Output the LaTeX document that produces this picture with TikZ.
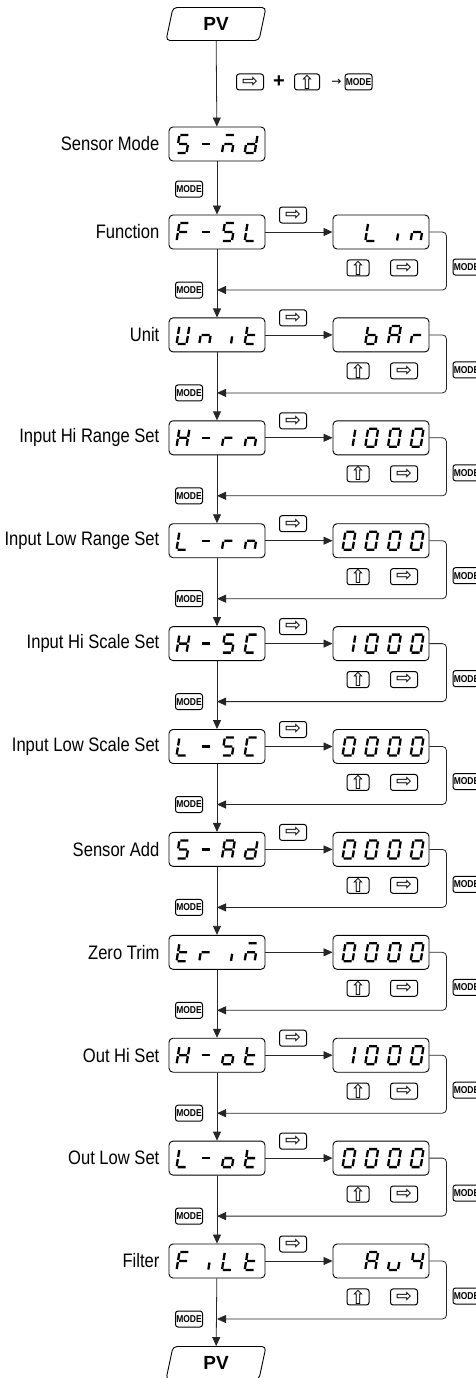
\documentclass[tikz,border=0pt]{standalone}
\usepackage{fontspec}
\setmainfont{Liberation Sans}
\newfontfamily\narrowfont[FakeStretch=0.85]{Liberation Sans}
\newfontfamily\symfont{DejaVu Sans}
\usetikzlibrary{shapes.geometric, arrows.meta, positioning}

% seven segment strokes (pixel units, y runs down)
\def\segA{(-4,-9) -- (4,-9)}
\def\segB{(5,-8) -- (5,-1)}
\def\segC{(5,1) -- (5,8)}
\def\segD{(-4,9) -- (4,9)}
\def\segE{(-5,1) -- (-5,8)}
\def\segF{(-5,-8) -- (-5,-1)}
\def\segG{(-4,0) -- (4,0)}
\def\segI{(4,1.5) -- (4,8.5)}
% display characters
\def\chX{}
\def\chDash{\segG}
\def\chS{\segA\segF\segG\segC\segD}
\def\chM{\segA\segG\segC\segE}
\def\chD{\segB\segC\segD\segE\segG}
\def\chF{\segA\segF\segG\segE}
\def\chL{\segF\segE\segD}
\def\chU{\segB\segC\segD\segE\segF}
\def\chN{\segG\segC\segE}
\def\chI{\segI}
\def\chT{\segF\segE\segD\segG}
\def\chH{\segB\segC\segE\segF\segG}
\def\chR{\segG\segE}
\def\chC{\segA\segF\segE\segD}
\def\chA{\segA\segB\segC\segE\segF\segG}
\def\chO{\segG\segC\segD\segE}
\def\chB{\segF\segE\segD\segC\segG}
\def\chY{\segF\segG\segB\segC}
\def\chV{\segE\segD\segC}
\def\chOne{\segB\segC}
\def\chZero{\segA\segB\segC\segD\segE\segF}

\newcommand{\segword}[6]{%
  \begin{scope}[shift={(#1.center)}, xshift=#2]
    \draw[segline, xslant=0.16] #3;
    \draw[segline, xshift=22.7, xslant=0.16] #4;
    \draw[segline, xshift=45.4, xslant=0.16] #5;
    \draw[segline, xshift=68.1, xslant=0.16] #6;
  \end{scope}}

\begin{document}
\begin{tikzpicture}[x=1pt, y=-1pt,
    conn/.style={line width=0.8pt, black!85},
    arr/.style={-{Triangle[length=9pt,width=8pt]}},
    segline/.style={line width=2.3pt, black},
    disp/.style={draw, line width=0.9pt, rounded corners=4pt, minimum width=96pt, minimum height=34pt, inner sep=0pt},
    pvbox/.style={trapezium, trapezium left angle=81, trapezium right angle=99, trapezium stretches=true, draw, line width=0.9pt, rounded corners=4pt, minimum width=100pt, minimum height=33pt, inner sep=0pt, font=\bfseries\fontsize{19}{19}\selectfont},
    keybox/.style={draw, line width=1pt, rounded corners=2.5pt, minimum width=27pt, minimum height=16pt, inner sep=0pt, font=\symfont\fontsize{19}{19}\selectfont},
    upkey/.style={keybox, minimum width=22pt},
    modekey/.style={draw, line width=1pt, rounded corners=2.5pt, minimum width=27pt, minimum height=16pt, inner sep=0pt, font=\narrowfont\bfseries\fontsize{10}{10}\selectfont},
    rowlabel/.style={inner sep=0pt, font=\narrowfont\fontsize{19.5}{21}\selectfont}]
  \useasboundingbox (0,0) rectangle (475,1378);

  % start
  \node[pvbox] (pvtop) at (216,24) {PV};
  \node[keybox] (c1) at (250,82) {⇨};
  \node[right=9pt of c1, inner sep=0pt, font=\bfseries\fontsize{20}{20}\selectfont] (cplus) {+};
  \node[keybox, minimum width=25pt, right=9pt of cplus] (c2) {⇧};
  \node[right=11pt of c2, inner sep=0pt, font=\symfont\fontsize{12}{12}\selectfont] (cto) {→};
  \node[modekey, right=3pt of cto] (cmode) {MODE};

  \node[disp] (sm) at (217,144) {};
  \node[rowlabel, left=9pt of sm] (lsm) {Sensor Mode};
  \segword{sm}{-34}{\chS}{\chDash}{\chM}{\chD}
  \coordinate (j0) at (217,189);
  \node[modekey, left=14pt of j0] (p0) {MODE};
  \draw[conn, arr] (pvtop) -- (sm);

  % menu rows
  \foreach \n/\lab/\ma/\mb/\mc/\md/\ra/\rb/\rc/\rd/\k in {
      1/Function/\chF/\chDash/\chS/\chL/\chX/\chL/\chI/\chN/1,
      2/Unit/\chU/\chN/\chI/\chT/\chX/\chB/\chA/\chR/1,
      3/Input Hi Range Set/\chH/\chDash/\chR/\chN/\chOne/\chZero/\chZero/\chZero/1,
      4/Input Low Range Set/\chL/\chDash/\chR/\chN/\chZero/\chZero/\chZero/\chZero/1,
      5/Input Hi Scale Set/\chH/\chDash/\chS/\chC/\chOne/\chZero/\chZero/\chZero/1,
      6/Input Low Scale Set/\chL/\chDash/\chS/\chC/\chZero/\chZero/\chZero/\chZero/1,
      7/Sensor Add/\chS/\chDash/\chA/\chD/\chZero/\chZero/\chZero/\chZero/1,
      8/Zero Trim/\chT/\chR/\chI/\chM/\chZero/\chZero/\chZero/\chZero/0,
      9/Out Hi Set/\chH/\chDash/\chO/\chT/\chOne/\chZero/\chZero/\chZero/1,
      10/Out Low Set/\chL/\chDash/\chO/\chT/\chZero/\chZero/\chZero/\chZero/1,
      11/Filter/\chF/\chI/\chL/\chT/\chX/\chA/\chV/\chY/1}
  {
    \pgfmathsetmacro{\y}{232+(\n-1)*102.9}
    \node[disp] (m\n) at (217,\y) {};
    \node[rowlabel, left=9pt of m\n] (l\n) {\lab};
    \node[disp] (r\n) at (381,\y) {};
    \segword{m\n}{-34}{\ma}{\mb}{\mc}{\md}
    \segword{r\n}{-32}{\ra}{\rb}{\rc}{\rd}
    \ifnum\k=1 \node[keybox] (a\n) at (293,\y-17) {⇨}; \fi
    \node[upkey, below=10pt of r\n.south, xshift=-23pt] (u\n) {⇧};
    \node[keybox, below=10pt of r\n.south, xshift=23pt] (s\n) {⇨};
    \node[modekey] (q\n) at (466.5,\y+35) {MODE};
    \coordinate (j\n) at (217,\y+58);
    \node[modekey, left=14pt of j\n] (p\n) {MODE};
    \draw[conn, arr] (m\n) -- (r\n);
    \draw[conn, arr, rounded corners=4pt] (r\n.east) -- ++(17,0) |- (j\n);
  }

  % main line
  \draw[conn, arr] (sm) -- (m1);
  \foreach \n in {1,...,10} {
    \pgfmathtruncatemacro{\nx}{\n+1}
    \draw[conn, arr] (m\n) -- (m\nx);
  }
  \node[pvbox] (pvbot) at (216,1363) {PV};
  \draw[conn, arr] (m11) -- (pvbot);
\end{tikzpicture}
\end{document}
